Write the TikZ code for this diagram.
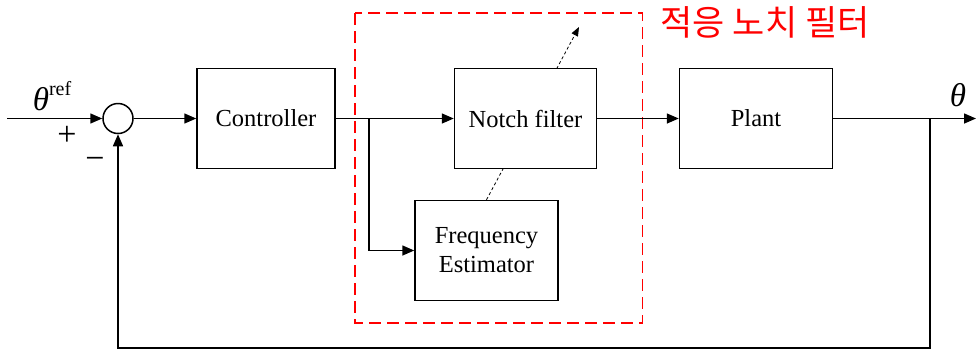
\documentclass[tikz,border=0pt]{standalone}
\usepackage{fontspec}
\setmainfont{Liberation Serif}
\newfontfamily\krfont{Noto Sans CJK KR}
\usetikzlibrary{arrows.meta}

\begin{document}
\begin{tikzpicture}[x=1pt,y=-1pt,
  line width=1.5pt,
  blk/.style={draw,fill=white,line width=1.5pt,inner sep=0pt,
    font=\fontsize{24.5}{29}\selectfont,align=center},
  sig/.style={-{Triangle[length=12pt,width=10pt]}},
  lbl/.style={font=\fontsize{33}{36}\selectfont},
  sgn/.style={font=\fontsize{34}{36}\selectfont}]
\useasboundingbox (0,0) rectangle (977,349);

% adaptive notch filter region
\draw[red,line width=1.8pt,dash pattern=on 12pt off 6pt] (355,13) rectangle (642.5,323);
\node[red,font=\krfont\fontsize{35}{38}\selectfont] (kr) at (765,22) {적응 노치 필터};

% frequency estimator and its tuning link
\node[blk,minimum width=143pt,minimum height=100pt] (freq) at (486.5,250.5) {Frequency\\Estimator};
\coordinate (tune) at (579,27);
\draw[line width=0.8pt,dash pattern=on 3pt off 2.5pt,-{Triangle[length=9pt,width=7pt]}] (freq.north) -- (tune);

% main blocks
\node[draw,circle,line width=1.5pt,minimum size=30pt,inner sep=0pt] (sum) at (118,118.5) {};
\node[blk,minimum width=138pt,minimum height=100pt] (ctrl) at (266,118.5) {Controller};
\node[blk,minimum width=142pt,minimum height=100pt] (notch) at (525.5,118.5) {Notch filter};
\node[blk,minimum width=153pt,minimum height=100pt] (plant) at (756,118.5) {Plant};

% signal path
\coordinate (in) at (7,118.5);
\coordinate (out) at (976,118.5);
\coordinate (br) at (369,118.5);
\coordinate (fb) at (930,118.5);
\coordinate (fbb) at (930,348);

\draw[sig] (in) -- (sum.west);
\draw[sig] (sum.east) -- (ctrl.west);
\draw[sig] (ctrl.east) -- (notch.west);
\draw[sig] (br) |- (freq.west);
\draw[sig] (notch.east) -- (plant.west);
\draw[sig] (plant.east) -- (out);
\draw[sig] (fb) -- (fbb) -| (sum.south);

% labels
\node[lbl] (ref) at (52,96) {\textit{θ}\raisebox{0.45em}{\fontsize{20}{22}\selectfont ref}};
\node[lbl] (th) at (958,95) {\textit{θ}};
\node[sgn] (plus) at (67,136) {+};
\node[sgn] (minus) at (95,163) {−};
\end{tikzpicture}
\end{document}
